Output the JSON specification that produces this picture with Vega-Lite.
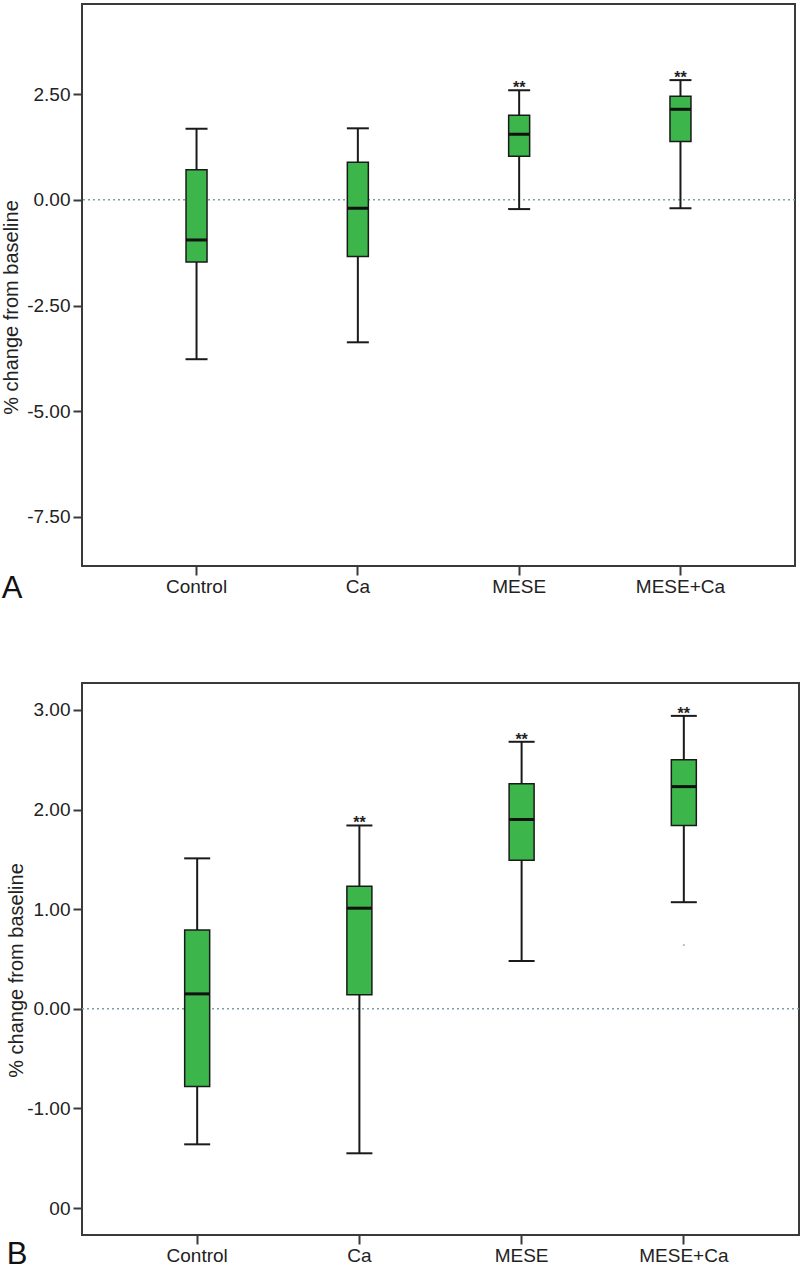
{
  "$schema": "https://vega.github.io/schema/vega-lite/v6.json",
  "padding": {"left": 0, "top": 3, "right": 3, "bottom": 0},
  "spacing": 77,
  "background": "white",
  "config": {
    "font": "Liberation Sans",
    "view": {"stroke": "#3a3a3a", "strokeWidth": 2},
    "axis": {"domain": false, "grid": false, "tickColor": "#3a3a3a", "tickWidth": 2, "tickSize": 9, "labelFont": "Liberation Sans", "labelFontSize": 19, "labelColor": "#222", "titleFont": "Liberation Sans", "titleFontSize": 20, "titleFontWeight": "normal", "titleColor": "#222"},
    "title": {"font": "Liberation Sans", "fontSize": 31, "fontWeight": "normal", "color": "#111"}
  },
  "datasets": {
    "A": [
      {"group": "Control", "min": -3.77, "q1": -1.47, "median": -0.95, "q3": 0.71, "max": 1.68, "sig": ""},
      {"group": "Ca", "min": -3.37, "q1": -1.34, "median": -0.2, "q3": 0.89, "max": 1.69, "sig": ""},
      {"group": "MESE", "min": -0.22, "q1": 1.03, "median": 1.55, "q3": 2.0, "max": 2.59, "sig": "**"},
      {"group": "MESE+Ca", "min": -0.2, "q1": 1.38, "median": 2.14, "q3": 2.45, "max": 2.83, "sig": "**"}
    ],
    "B": [
      {"group": "Control", "min": -1.36, "q1": -0.78, "median": 0.15, "q3": 0.79, "max": 1.51, "sig": ""},
      {"group": "Ca", "min": -1.45, "q1": 0.14, "median": 1.01, "q3": 1.23, "max": 1.84, "sig": "**"},
      {"group": "MESE", "min": 0.48, "q1": 1.49, "median": 1.9, "q3": 2.26, "max": 2.68, "sig": "**"},
      {"group": "MESE+Ca", "min": 1.07, "q1": 1.84, "median": 2.23, "q3": 2.5, "max": 2.94, "sig": "**"}
    ],
    "outB": [{"group": "MESE+Ca", "value": 0.64}],
    "zero": [{"ref": 0}]
  },
  "vconcat": [
    {
      "width": 713,
      "height": 562,
      "title": {"text": "A", "orient": "bottom", "anchor": "start", "frame": "bounds", "offset": -22},
      "layer": [
        {
          "data": {"name": "zero"},
          "mark": {"type": "rule", "color": "#7f9ea6", "strokeDash": [2, 3], "strokeWidth": 1.5},
          "encoding": {
            "y": {"field": "ref", "type": "quantitative", "title": "% change from baseline", "scale": {"domain": [-8.66, 4.63], "nice": false, "zero": false},
              "axis": {"values": [-7.5, -5, -2.5, 0, 2.5], "labelExpr": "(datum.value < 0 ? '-' : '') + format(abs(datum.value), '.2f')", "labelPadding": 3, "titlePadding": 5, "titleY": 303}}
          }
        },
        {
          "data": {"name": "A"},
          "mark": {"type": "rule", "color": "#1a1a1a", "strokeWidth": 2},
          "encoding": {
            "x": {"field": "group", "type": "nominal", "sort": ["Control", "Ca", "MESE", "MESE+Ca"], "scale": {"paddingInner": 0, "paddingOuter": 0.21}, "axis": {"title": null, "labelAngle": 0, "labelPadding": 2}},
            "y": {"field": "min", "type": "quantitative", "title": "% change from baseline", "scale": {"domain": [-8.66, 4.63], "nice": false, "zero": false}},
            "y2": {"field": "max"}
          }
        },
        {
          "data": {"name": "A"},
          "mark": {"type": "tick", "color": "#1a1a1a", "size": 22, "thickness": 2, "opacity": 1},
          "encoding": {
            "x": {"field": "group", "type": "nominal", "sort": ["Control", "Ca", "MESE", "MESE+Ca"]},
            "y": {"field": "min", "type": "quantitative", "title": "% change from baseline", "scale": {"domain": [-8.66, 4.63], "nice": false, "zero": false}}
          }
        },
        {
          "data": {"name": "A"},
          "mark": {"type": "tick", "color": "#1a1a1a", "size": 22, "thickness": 2, "opacity": 1},
          "encoding": {
            "x": {"field": "group", "type": "nominal", "sort": ["Control", "Ca", "MESE", "MESE+Ca"]},
            "y": {"field": "max", "type": "quantitative", "title": "% change from baseline", "scale": {"domain": [-8.66, 4.63], "nice": false, "zero": false}}
          }
        },
        {
          "data": {"name": "A"},
          "mark": {"type": "bar", "size": 21, "fill": "#3cb54a", "stroke": "#1a1a1a", "strokeWidth": 1.5},
          "encoding": {
            "x": {"field": "group", "type": "nominal", "sort": ["Control", "Ca", "MESE", "MESE+Ca"]},
            "y": {"field": "q1", "type": "quantitative", "title": "% change from baseline", "scale": {"domain": [-8.66, 4.63], "nice": false, "zero": false}},
            "y2": {"field": "q3"}
          }
        },
        {
          "data": {"name": "A"},
          "mark": {"type": "tick", "color": "#111", "size": 21, "thickness": 3, "opacity": 1},
          "encoding": {
            "x": {"field": "group", "type": "nominal", "sort": ["Control", "Ca", "MESE", "MESE+Ca"]},
            "y": {"field": "median", "type": "quantitative", "title": "% change from baseline", "scale": {"domain": [-8.66, 4.63], "nice": false, "zero": false}}
          }
        },
        {
          "data": {"name": "A"},
          "mark": {"type": "text", "color": "#222", "fontSize": 16, "fontWeight": "bold", "baseline": "alphabetic", "dy": 3},
          "encoding": {
            "x": {"field": "group", "type": "nominal", "sort": ["Control", "Ca", "MESE", "MESE+Ca"]},
            "y": {"field": "max", "type": "quantitative", "title": "% change from baseline", "scale": {"domain": [-8.66, 4.63], "nice": false, "zero": false}},
            "text": {"field": "sig"}
          }
        }
      ]
    },
    {
      "width": 717,
      "height": 552,
      "title": {"text": "B", "orient": "bottom", "anchor": "start", "frame": "bounds", "offset": -25},
      "layer": [
        {
          "data": {"name": "zero"},
          "mark": {"type": "rule", "color": "#7f9ea6", "strokeDash": [2, 3], "strokeWidth": 1.5},
          "encoding": {
            "y": {"field": "ref", "type": "quantitative", "title": "% change from baseline", "scale": {"domain": [-2.27, 3.27], "nice": false, "zero": false},
              "axis": {"values": [-2, -1, 0, 1, 2, 3], "labelExpr": "datum.value == -2 ? '00' : (datum.value < 0 ? '-' : '') + format(abs(datum.value), '.2f')", "labelPadding": 3, "titlePadding": 0, "titleY": 287}}
          }
        },
        {
          "data": {"name": "B"},
          "mark": {"type": "rule", "color": "#1a1a1a", "strokeWidth": 2},
          "encoding": {
            "x": {"field": "group", "type": "nominal", "sort": ["Control", "Ca", "MESE", "MESE+Ca"], "scale": {"paddingInner": 0, "paddingOuter": 0.21}, "axis": {"title": null, "labelAngle": 0, "labelPadding": 2}},
            "y": {"field": "min", "type": "quantitative", "title": "% change from baseline", "scale": {"domain": [-2.27, 3.27], "nice": false, "zero": false}},
            "y2": {"field": "max"}
          }
        },
        {
          "data": {"name": "B"},
          "mark": {"type": "tick", "color": "#1a1a1a", "size": 26, "thickness": 2, "opacity": 1},
          "encoding": {
            "x": {"field": "group", "type": "nominal", "sort": ["Control", "Ca", "MESE", "MESE+Ca"]},
            "y": {"field": "min", "type": "quantitative", "title": "% change from baseline", "scale": {"domain": [-2.27, 3.27], "nice": false, "zero": false}}
          }
        },
        {
          "data": {"name": "B"},
          "mark": {"type": "tick", "color": "#1a1a1a", "size": 26, "thickness": 2, "opacity": 1},
          "encoding": {
            "x": {"field": "group", "type": "nominal", "sort": ["Control", "Ca", "MESE", "MESE+Ca"]},
            "y": {"field": "max", "type": "quantitative", "title": "% change from baseline", "scale": {"domain": [-2.27, 3.27], "nice": false, "zero": false}}
          }
        },
        {
          "data": {"name": "B"},
          "mark": {"type": "bar", "size": 25, "fill": "#3cb54a", "stroke": "#1a1a1a", "strokeWidth": 1.5},
          "encoding": {
            "x": {"field": "group", "type": "nominal", "sort": ["Control", "Ca", "MESE", "MESE+Ca"]},
            "y": {"field": "q1", "type": "quantitative", "title": "% change from baseline", "scale": {"domain": [-2.27, 3.27], "nice": false, "zero": false}},
            "y2": {"field": "q3"}
          }
        },
        {
          "data": {"name": "B"},
          "mark": {"type": "tick", "color": "#111", "size": 25, "thickness": 3, "opacity": 1},
          "encoding": {
            "x": {"field": "group", "type": "nominal", "sort": ["Control", "Ca", "MESE", "MESE+Ca"]},
            "y": {"field": "median", "type": "quantitative", "title": "% change from baseline", "scale": {"domain": [-2.27, 3.27], "nice": false, "zero": false}}
          }
        },
        {
          "data": {"name": "outB"},
          "mark": {"type": "point", "filled": true, "size": 5, "color": "#9aaabb", "opacity": 0.8},
          "encoding": {
            "x": {"field": "group", "type": "nominal", "sort": ["Control", "Ca", "MESE", "MESE+Ca"]},
            "y": {"field": "value", "type": "quantitative", "title": "% change from baseline", "scale": {"domain": [-2.27, 3.27], "nice": false, "zero": false}}
          }
        },
        {
          "data": {"name": "B"},
          "mark": {"type": "text", "color": "#222", "fontSize": 16, "fontWeight": "bold", "baseline": "alphabetic", "dy": 3},
          "encoding": {
            "x": {"field": "group", "type": "nominal", "sort": ["Control", "Ca", "MESE", "MESE+Ca"]},
            "y": {"field": "max", "type": "quantitative", "title": "% change from baseline", "scale": {"domain": [-2.27, 3.27], "nice": false, "zero": false}},
            "text": {"field": "sig"}
          }
        }
      ]
    }
  ]
}
